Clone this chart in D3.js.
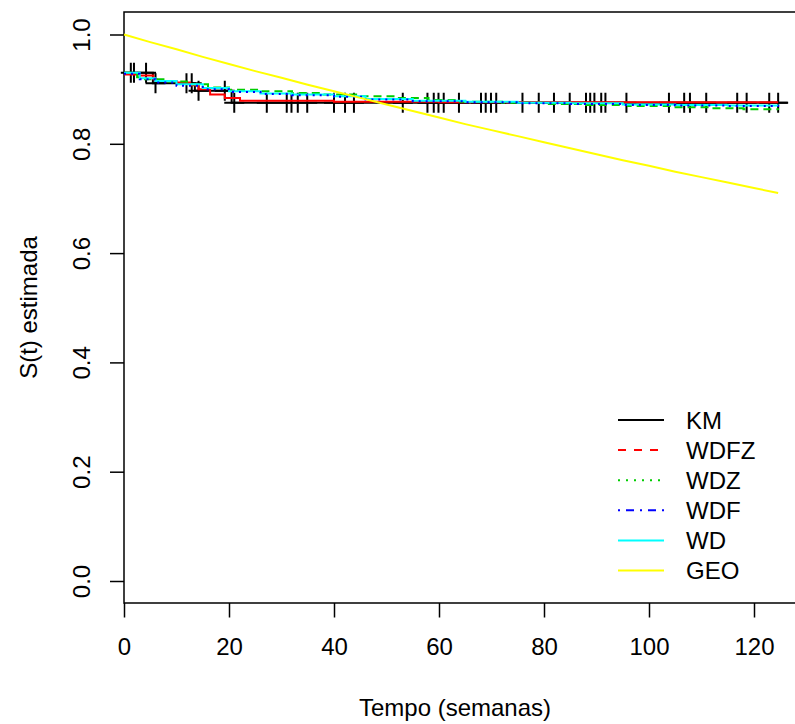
<!DOCTYPE html>
<html>
<head>
<meta charset="utf-8">
<script src="https://cdn.jsdelivr.net/npm/d3@7"></script>
<style>
  html, body { margin: 0; padding: 0; background: #fff; }
  svg text { font-family: "Liberation Sans", Arial, Helvetica, sans-serif; fill: #000; }
</style>
</head>
<body>
<svg id="chart" width="795" height="724"></svg>
<script>
// ---------- data ----------
const xTicks = [0, 20, 40, 60, 80, 100, 120];
const yTicks = [0.0, 0.2, 0.4, 0.6, 0.8, 1.0];
const yTickLabels = ["0.0", "0.2", "0.4", "0.6", "0.8", "1.0"];

// Kaplan-Meier step function [time, S(t)]
const kmSteps = [[0, 0.930], [5.5, 0.911], [13.5, 0.897], [20.5, 0.875], [126.4, 0.875]];
// censoring times
const censorTimes = [1.3, 1.9, 4.2, 6.0, 11.9, 12.9, 14.2, 19.2, 21.0, 27.2, 31.0, 31.9, 33.1, 34.9,
  40.0, 42.1, 43.8, 53.1, 57.8, 59.0, 59.9, 60.9, 63.8, 68.0, 68.9, 69.9, 70.9, 75.9, 79.0, 81.9,
  84.9, 88.0, 88.8, 89.6, 90.9, 91.7, 95.7, 103.8, 106.7, 107.8, 110.9, 116.8, 118.6, 122.9, 124.6];

const wdfz = [[0, 0.927], [3, 0.925], [5.6, 0.918], [6.2, 0.915], [10, 0.912], [12.6, 0.907],
  [14.2, 0.900], [16.4, 0.890], [19.2, 0.884], [22.1, 0.879], [40, 0.877], [60, 0.876], [124.6, 0.876]];
const wdz = [[0, 0.930], [2.5, 0.922], [4, 0.918], [8, 0.914], [12, 0.909], [16, 0.903], [20, 0.899],
  [26, 0.896], [32, 0.893], [38, 0.890], [45, 0.887], [52, 0.884], [58, 0.880], [64, 0.877],
  [72, 0.875], [80, 0.873], [88, 0.871], [96, 0.869], [104, 0.867], [112, 0.865], [118, 0.863], [124.6, 0.862]];
const wdf = [[0, 0.928], [3, 0.918], [6, 0.912], [10, 0.906], [15, 0.900], [20, 0.895], [26, 0.891],
  [32, 0.889], [40, 0.886], [46, 0.881], [55, 0.878], [65, 0.876], [75, 0.874], [85, 0.873],
  [95, 0.871], [105, 0.870], [115, 0.869], [124.6, 0.868]];
const wd = [[0, 0.930], [3, 0.920], [6, 0.915], [10, 0.909], [15, 0.902], [20, 0.896], [26, 0.892],
  [32, 0.890], [40, 0.887], [46, 0.882], [55, 0.879], [65, 0.877], [75, 0.875], [85, 0.874],
  [95, 0.872], [105, 0.871], [115, 0.870], [124.6, 0.869]];
const geo = [[0, 1.000], [5, 0.986], [10, 0.973], [15, 0.959], [20, 0.946], [25, 0.933], [30, 0.921],
  [35, 0.908], [40, 0.896], [45, 0.884], [50, 0.872], [55, 0.860], [60, 0.848], [65, 0.836],
  [70, 0.825], [75, 0.814], [80, 0.803], [85, 0.792], [90, 0.781], [95, 0.770], [100, 0.760],
  [105, 0.749], [110, 0.739], [115, 0.729], [120, 0.719], [124.6, 0.710]];

const legendLabels = ["KM", "WDFZ", "WDZ", "WDF", "WD", "GEO"];
const legendColors = ["#000000", "#FF0000", "#00CD00", "#0000FF", "#00FFFF", "#FFFF00"];
const legendDash = [null, "8,8", "2,6", "2,6,8,6", null, null];

// ---------- layout ----------
const svg = d3.select("#chart");
const x = d3.scaleLinear().domain([0, 120]).range([124, 754]);
const y = d3.scaleLinear().domain([0, 1]).range([581, 34.5]);
const boxTop = 12, boxBottom = 603, boxLeft = 124, boxRight = 800;
const FS = 24;

// box (right side lies beyond the canvas)
svg.append("path")
  .attr("d", `M${boxRight},${boxTop}H${boxLeft}V${boxBottom}H${boxRight}`)
  .attr("fill", "none").attr("stroke", "#000").attr("stroke-width", 1.5);

// x axis
const xAxis = d3.axisBottom(x).tickValues(xTicks).tickSize(14.5).tickPadding(0).tickFormat(d3.format("d"));
const gx = svg.append("g").attr("transform", `translate(0,${boxBottom})`).call(xAxis);
gx.select(".domain").remove();
gx.selectAll(".tick line").attr("stroke", "#000").attr("stroke-width", 1.5);
gx.selectAll(".tick text").attr("y", 52).attr("dy", null).style("font-size", FS + "px").attr("fill", "#000");

// y axis (rotated labels)
const yAxis = d3.axisLeft(y).tickValues(yTicks).tickSize(14).tickFormat((d, i) => yTickLabels[i]);
const gy = svg.append("g").attr("transform", `translate(${boxLeft},0)`).call(yAxis);
gy.select(".domain").remove();
gy.selectAll(".tick line").attr("stroke", "#000").attr("stroke-width", 1.5);
gy.selectAll(".tick text")
  .attr("x", null).attr("dy", null)
  .attr("text-anchor", "middle")
  .attr("transform", "translate(-34,0) rotate(-90)")
  .style("font-size", FS + "px").attr("fill", "#000");

// axis titles
svg.append("text").attr("x", 455).attr("y", 716).attr("text-anchor", "middle")
  .style("font-size", FS + "px").text("Tempo (semanas)");
svg.append("text").attr("transform", `translate(37,${(boxTop + boxBottom) / 2}) rotate(-90)`)
  .attr("text-anchor", "middle").style("font-size", FS + "px").text("S(t) estimada");

// ---------- curves ----------
const stepLine = d3.line().x(d => x(d[0])).y(d => y(d[1])).curve(d3.curveStepAfter);
const linLine = d3.line().x(d => x(d[0])).y(d => y(d[1]));
const plotG = svg.append("g");

function drawCurve(data, gen, color, dash) {
  const p = plotG.append("path").datum(data).attr("d", gen)
    .attr("fill", "none").attr("stroke", color).attr("stroke-width", 2);
  if (dash) p.attr("stroke-dasharray", dash);
}

// KM + censor marks
drawCurve(kmSteps, stepLine, "#000", null);
function kmAt(t) {
  let s = kmSteps[0][1];
  for (const [tt, v] of kmSteps) { if (tt <= t) s = v; }
  return s;
}
plotG.append("path")
  .attr("d", censorTimes.map(t => {
    const cx = x(t), cy = y(kmAt(t));
    return `M${cx - 10},${cy}H${cx + 10}M${cx},${cy - 10}V${cy + 10}`;
  }).join(""))
  .attr("fill", "none").attr("stroke", "#000").attr("stroke-width", 2);

drawCurve(wdfz, stepLine, "#FF0000", null);
drawCurve(wdz, stepLine, "#00CD00", "8,5");
drawCurve(wd, stepLine, "#00FFFF", null);
drawCurve(wdf, stepLine, "#0000FF", "2,5");
drawCurve(geo, linLine, "#FFFF00", null);

// ---------- legend ----------
const legY0 = 420, legDy = 30.1;
const lg = svg.append("g");
legendLabels.forEach((lab, i) => {
  const yy = legY0 + i * legDy;
  const ln = lg.append("line").attr("x1", 618).attr("x2", 664).attr("y1", yy).attr("y2", yy)
    .attr("stroke", legendColors[i]).attr("stroke-width", 2);
  if (legendDash[i]) ln.attr("stroke-dasharray", legendDash[i]);
  lg.append("text").attr("x", 686).attr("y", yy + 8.6).style("font-size", FS + "px").text(lab);
});
</script>
</body>
</html>
